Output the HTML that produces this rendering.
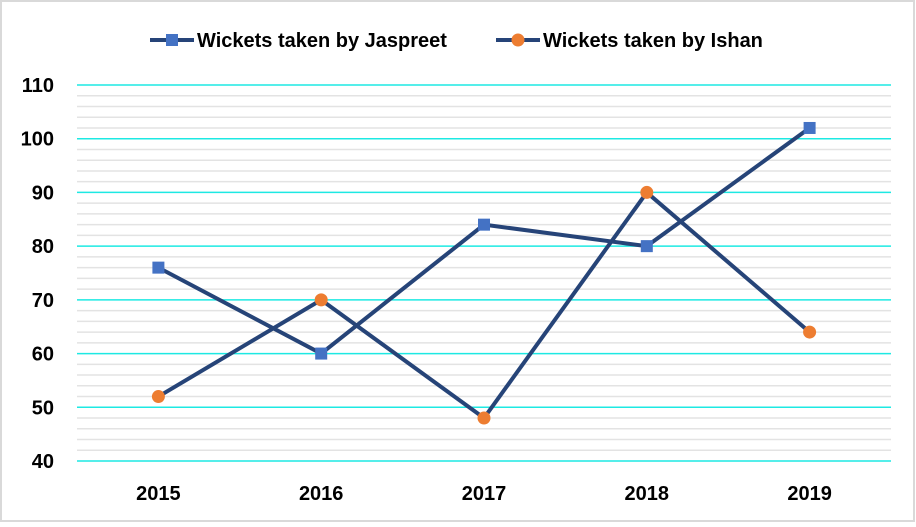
<!DOCTYPE html>
<html><head><meta charset="utf-8"><style>
body{margin:0;background:#fff;}
svg{display:block;font-family:"Liberation Sans",Arial,sans-serif;}
</style></head><body>
<svg id="chart" width="916" height="527">
<rect x="1" y="1" width="913" height="520" fill="#fff" stroke="#d9d9d9" stroke-width="2"/>
<g id="grid"></g><g id="ylabels"></g><g id="xlabels"></g><g id="series"></g>
<g>
<g>
<line x1="150" y1="40" x2="194" y2="40" stroke="#264478" stroke-width="4"/>
<rect x="166" y="34" width="12" height="12" fill="#4472c4"/>
<text x="197" y="47" font-size="20" font-weight="bold" fill="#000">Wickets taken by Jaspreet</text>
</g>
<g>
<line x1="496" y1="40" x2="540" y2="40" stroke="#264478" stroke-width="4"/>
<circle cx="518" cy="40" r="6.5" fill="#ed7d31"/>
<text x="543" y="47" font-size="20" font-weight="bold" fill="#000">Wickets taken by Ishan</text>
</g>
</g>
</svg>
<script>
const categories=["2015","2016","2017","2018","2019"];
const jaspreet=[76,60,84,80,102];
const ishan=[52,70,48,90,64];
const yTicks=[40,50,60,70,80,90,100,110];
const NS="http://www.w3.org/2000/svg";
const x0=77,x1=891,yMin=40,yMax=110,py0=461,py1=85;
const xs=i=>x0+(x1-x0)/categories.length*(i+0.5);
const ys=v=>py0-(v-yMin)/(yMax-yMin)*(py0-py1);
function mk(t,a,p){const e=document.createElementNS(NS,t);for(const k in a)e.setAttribute(k,a[k]);p.appendChild(e);return e;}
const grid=document.getElementById('grid');
for(let v=yMin;v<=yMax;v+=2){
 const major=v%10===0;
 const l=mk('line',{x1:x0,x2:x1,y1:ys(v),y2:ys(v),stroke:major?'#1de9e3':'#e3e3e3','stroke-width':1.5},grid);
 
 
}
const yl=document.getElementById('ylabels');
yTicks.forEach(v=>{const t=mk('text',{x:54,y:ys(v)+7,'text-anchor':'end','font-size':20,'font-weight':'bold'},yl);t.textContent=v;

});
const xl=document.getElementById('xlabels');
categories.forEach((c,i)=>{const t=mk('text',{x:xs(i),y:500,'text-anchor':'middle','font-size':20,'font-weight':'bold'},xl);t.textContent=c;

});
const sg=document.getElementById('series');
function line(data,name){const p=mk('polyline',{points:data.map((v,i)=>xs(i)+','+ys(v)).join(' '),fill:'none',stroke:'#264478','stroke-width':4,'stroke-linejoin':'round'},sg);

}
line(jaspreet,'jaspreet-line');line(ishan,'ishan-line');
jaspreet.forEach((v,i)=>{const r=mk('rect',{x:xs(i)-6,y:ys(v)-6,width:12,height:12,fill:'#4472c4'},sg);

});
ishan.forEach((v,i)=>{const c=mk('circle',{cx:xs(i),cy:ys(v),r:6.5,fill:'#ed7d31'},sg);

});
</script>
</body></html>
